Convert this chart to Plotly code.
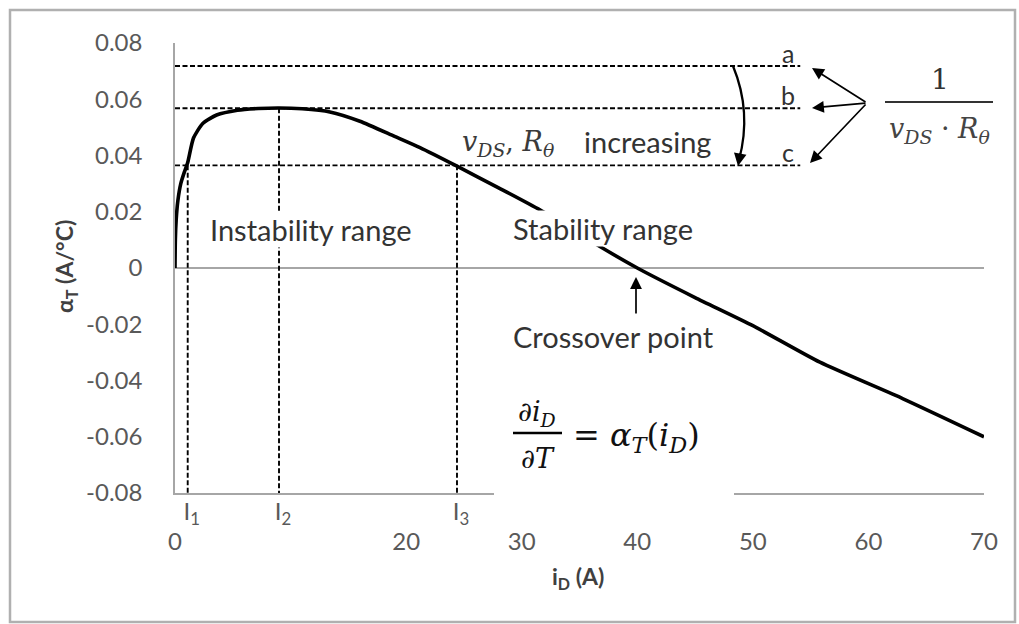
import plotly.graph_objects as go

# ---------------- data ----------------
i_D = [0, 0.03, 0.1, 0.25, 0.5, 0.8, 1.1, 1.6, 2.4, 3.6, 5.4, 7.2, 9.0, 11.0, 13.4,
       16.0, 19.0, 21.2, 24.4, 28.0, 31.6, 36.0, 40.0, 45.0, 50.0, 55.8, 63.0, 70.0]
alpha_T = [0, 0.010, 0.017, 0.024, 0.030, 0.034, 0.0375, 0.0462, 0.0514, 0.0544, 0.0561,
           0.0567, 0.0569, 0.0566, 0.0555, 0.0522, 0.0468, 0.0428, 0.0362, 0.0285, 0.0206,
           0.0095, 0.0, -0.0105, -0.0205, -0.0335, -0.0465, -0.0600]

level_names = ["a", "b", "c"]
level_values = [0.0718, 0.0568, 0.0365]      # 1/(vDS*Rtheta) levels
level_x_end = 54.1

I_names = ["I<sub>1</sub>", "I<sub>2</sub>", "I<sub>3</sub>"]
I_values = [1.1, 9.0, 24.4]
I_start_level = [0.0365, 0.0568, 0.0365]

x_tickvals = [0, 20, 30, 40, 50, 60, 70]
x_ticktext = ["0", "20", "30", "40", "50", "60", "70"]
y_tickvals = [0.08, 0.06, 0.04, 0.02, 0, -0.02, -0.04, -0.06, -0.08]
y_ticktext = ["0.08", "0.06", "0.04", "0.02", "0", "-0.02", "-0.04", "-0.06", "-0.08"]

# ---------------- layout geometry ----------------
W, H = 1019, 624
L, R, T, B = 175, 984, 43, 493


def px(x):
    return (x - L) / (R - L)


def py(y):
    return (B - y) / (B - T)


SANS = "Lato"
SERIF = "DejaVu Serif"
TXT = "#333333"
AX = "#a6a6a6"
DASH = dict(color="black", width=1.9, dash="5px,2.5px")

fig = go.Figure()

fig.add_trace(go.Scatter(x=i_D, y=alpha_T, mode="lines",
                         line=dict(color="black", width=3.6, shape="spline", smoothing=0.6),
                         hoverinfo="skip"))

for v in level_values:
    fig.add_trace(go.Scatter(x=[0, level_x_end], y=[v, v], mode="lines",
                             line=DASH, hoverinfo="skip"))

for xv, yv in zip(I_values, I_start_level):
    fig.add_trace(go.Scatter(x=[xv, xv], y=[yv, -0.08], mode="lines", xaxis="x2",
                             line=DASH, hoverinfo="skip"))

fig.update_layout(
    width=W, height=H,
    margin=dict(l=L, r=W - R, t=T, b=H - B),
    paper_bgcolor="white", plot_bgcolor="white",
    showlegend=False,
    xaxis=dict(range=[0, 70], tickvals=x_tickvals, ticktext=x_ticktext,
               showgrid=False, zeroline=False, showline=True, linecolor=AX, linewidth=1.5,
               ticks="", ticklabelstandoff=26,
               tickfont=dict(family=SANS, size=24, color="#595959")),
    xaxis2=dict(range=[0, 70], overlaying="x", anchor="y", side="bottom",
                tickvals=I_values, ticktext=I_names, showgrid=False, zeroline=False,
                showline=False, ticks="", ticklabelstandoff=2, ticklabelshift=4,
                tickfont=dict(family=SANS, size=24, color="#595959")),
    yaxis=dict(range=[-0.08, 0.08], tickvals=y_tickvals, ticktext=y_ticktext,
               showgrid=False, zeroline=True, zerolinecolor=AX, zerolinewidth=1.5,
               showline=True, linecolor=AX, linewidth=1.5, ticks="",
               ticklabelstandoff=26,
               tickfont=dict(family=SANS, size=24, color="#595959")),
)

shapes = []
# outer frame
shapes.append(dict(type="rect", xref="paper", yref="paper",
                   x0=px(10), x1=px(1015), y0=py(622), y1=py(10),
                   line=dict(color="#b0b0b0", width=2.5), layer="above"))
# white box behind equation (hides the axis line there)
shapes.append(dict(type="rect", xref="paper", yref="paper",
                   x0=px(494), x1=px(734), y0=py(499), y1=py(393),
                   fillcolor="white", line=dict(width=0), layer="above"))
# equation fraction bar
shapes.append(dict(type="line", xref="paper", yref="paper",
                   x0=px(513), x1=px(562), y0=py(433), y1=py(433),
                   line=dict(color="black", width=2.5), layer="above"))
# 1/(vDS*Rtheta) fraction bar
shapes.append(dict(type="line", xref="paper", yref="paper",
                   x0=px(885), x1=px(993), y0=py(102), y1=py(102),
                   line=dict(color="#333333", width=2), layer="above"))
# curved arrow body
shapes.append(dict(type="path", xref="paper", yref="paper",
                   path=f"M {px(733)},{py(66)} Q {px(752)},{py(112)} {px(739)},{py(160)}",
                   line=dict(color="black", width=2.3), layer="above"))
fig.update_layout(shapes=shapes)

ann = []


def text(x, y, s, size=29, family=SANS, color=TXT, xanchor="center", bg=None, **kw):
    d = dict(x=px(x), y=py(y), xref="paper", yref="paper", text=s, showarrow=False,
             font=dict(family=family, size=size, color=color),
             xanchor=xanchor, yanchor="middle")
    if bg:
        d["bgcolor"] = bg
        d["borderpad"] = 0
    d.update(kw)
    ann.append(d)


def arrow(x, y, ax, ay, width=1.7, head=2, size=1.4):
    ann.append(dict(x=px(x), y=py(y), xref="paper", yref="paper", text="",
                    showarrow=True, ax=ax, ay=ay, arrowhead=head, arrowsize=size,
                    arrowwidth=width, arrowcolor="black", standoff=0))


text(311, 229, "Instability range", bg="white")
text(603, 228, "Stability range", bg="white")
text(613, 336, "Crossover point")
text(647, 141, "increasing")
text(508, 143, "<i>v</i><sub><i>DS</i></sub>, <i>R</i><sub><i>θ</i></sub>",
     size=27, family=SERIF, color="#3a3a3a")
for nm, yy in zip(level_names, [53, 95, 152]):
    text(788, yy, nm, size=25)
text(940, 80, "1", size=28, family=SERIF, color="#333333")
text(939, 130, "<i>v</i><sub><i>DS</i></sub> · <i>R</i><sub><i>θ</i></sub>",
     size=27, family=SERIF, color="#444444")
# equation
text(537, 413, "∂<i>i</i><sub><i>D</i></sub>", size=27, family=SERIF, color="#111111")
text(538, 458, "∂<i>T</i>", size=27, family=SERIF, color="#111111")
text(571, 437, "= <i>α</i><sub><i>T</i></sub>(<i>i</i><sub><i>D</i></sub>)", size=32,
     family=SERIF, color="#111111", xanchor="left")
# axis titles
text(578, 577, "<b>i</b><sub><b>D</b></sub><b> (A)</b>", size=23, color="#404040")
ann.append(dict(x=px(65), y=py(266), xref="paper", yref="paper",
                text="<b>α</b><sub><b>T</b></sub><b> (A/°C)</b>", showarrow=False,
                textangle=-90, font=dict(family=SANS, size=23, color="#404040"),
                xanchor="center", yanchor="middle"))

# arrows
arrow(812, 68, 55, 35)
arrow(812, 108, 55, -5)
arrow(810, 163, 57, -60)
arrow(636, 277, 0, 38)
arrow(738, 166, 2.5, -14, width=2.3, size=1.1)

fig.update_layout(annotations=ann)
fig.write_html("out.html")
